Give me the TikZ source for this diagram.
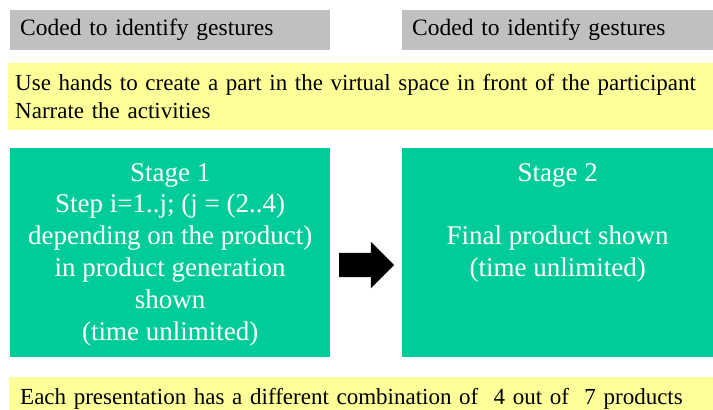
\documentclass[tikz,border=0pt]{standalone}
\usepackage{fontspec}
\setmainfont{Liberation Serif}
\usepackage{tikz}
\usepackage{xcolor}
\usetikzlibrary{positioning}
\usetikzlibrary{shapes.arrows}
\definecolor{codegray}{HTML}{C0C0C0}
\definecolor{notesyellow}{HTML}{FFFF99}
\definecolor{stagegreen}{HTML}{00CC99}

\begin{document}
\begin{tikzpicture}[x=1pt, y=-1pt,
        codebox/.style={
        fill=codegray,
        inner xsep=10pt,
        inner ysep=0pt,
        minimum height=40pt,
        text width=300pt,
        align=left,
        font=\fontsize{23.5}{28}\selectfont},
        notebox/.style={
        fill=notesyellow,
        inner xsep=7pt,
        inner ysep=0pt,
        text width=698pt,
        align=left,
        font=\fontsize{23}{28.5}\selectfont},
        stagebox/.style={
        fill=stagegreen,
        inner sep=0pt},
        stagetext/.style={
        text=white,
        align=center,
        inner sep=0pt,
        font=\fontsize{27}{31.8}\selectfont}]

        \useasboundingbox (0,0) rectangle (713,410);

        \node[codebox, minimum width=320pt, anchor=north west] (codeA) at (10,10) {Coded to identify gestures};
        \node[codebox, minimum width=311pt, text width=291pt, anchor=north west] (codeB) at (402,10) {Coded to identify gestures};

        \node[notebox, minimum height=67pt, anchor=north west] (task) at (8,63)
            {Use hands to create a part in the virtual space in front of the participant\\Narrate the activities};

        \node[stagebox, minimum width=320pt, minimum height=209pt, anchor=north west] (stageA) at (10,148) {};
        \node[stagebox, minimum width=311pt, minimum height=209pt, anchor=north west] (stageB) at (402,148) {};

        \node[stagetext, anchor=north] (stageAtext) at ([yshift=-15pt]stageA.north)
            {Stage 1\\Step i=1..j; (j = (2..4)\\depending on the product)\\in product generation\\shown\\(time unlimited)};
        \node[stagetext, anchor=north] (stageBtext) at ([yshift=-15pt]stageB.north)
            {Stage 2\\[31.8pt]Final product shown\\(time unlimited)};

        % block arrow between the stages
        \node[single arrow, fill=black, inner xsep=0pt, inner ysep=12pt, text width=0pt,
              single arrow head extend=11pt, single arrow tip angle=90,
              minimum height=55pt] (next) at (360.5,265) {};

        \node[notebox, inner xsep=11pt, text width=690pt, minimum height=44pt, anchor=north west] (combo) at (9,377)
            {Each presentation has a different combination of \ 4 out of \ 7 products};
\end{tikzpicture}
\end{document}
